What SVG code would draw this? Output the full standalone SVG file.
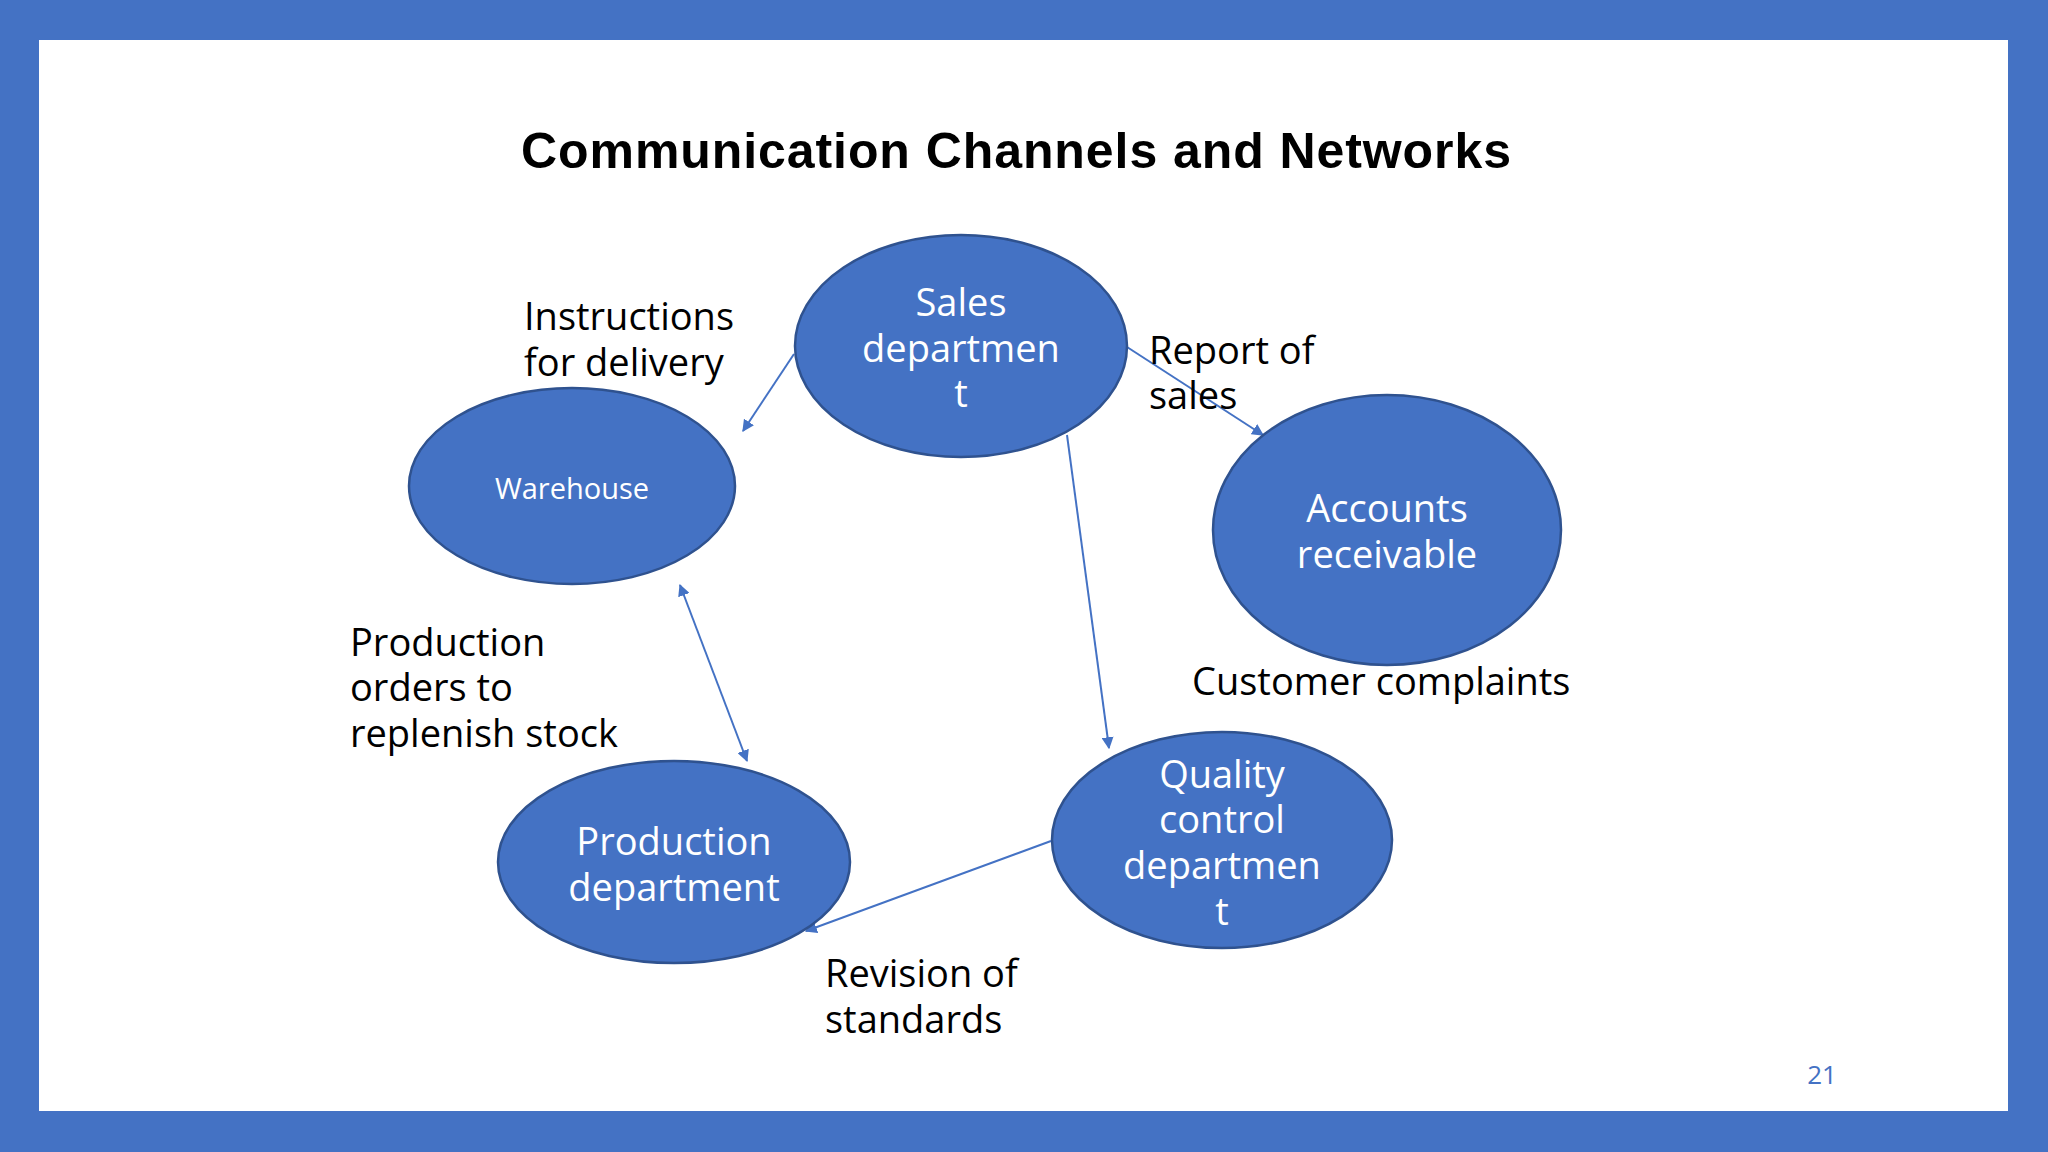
<svg xmlns="http://www.w3.org/2000/svg" width="2048" height="1152" viewBox="0 0 2048 1152">
<defs>
<style>
.n{fill:#4472C4;stroke:#2F528F;stroke-width:2.5}
.t{font-family:"Open Sans","Noto Sans",sans-serif;fill:#fff;font-size:38px;text-anchor:middle}
.w{font-size:29px}
.l{font-family:"Open Sans","Noto Sans",sans-serif;fill:#000;font-size:38px}
.c{stroke:#4472C4;stroke-width:2;fill:none;marker-end:url(#a)}
</style>
<marker id="a" viewBox="0 0 10 10" refX="9" refY="5" markerWidth="6" markerHeight="6" orient="auto-start-reverse"><path d="M0,0L10,5L0,10z" fill="#4472C4"/></marker>
</defs>
<rect width="2048" height="1152" fill="#4472C4"/>
<rect x="39" y="40" width="1969" height="1071" fill="#fff"/>
<text x="1016" y="168" font-family="Liberation Sans,Arial,sans-serif" font-weight="bold" font-size="50" text-anchor="middle" textLength="990">Communication Channels and Networks</text>
<g id="connectors">
<line class="c" x1="794" y1="354" x2="743" y2="431"/>
<line class="c" x1="1127" y1="347" x2="1263" y2="435"/>
<line class="c" x1="1067" y1="435" x2="1109" y2="748"/>
<line class="c" x1="680" y1="585" x2="747" y2="761" marker-start="url(#a)"/>
<line class="c" x1="1051" y1="841" x2="806" y2="931"/>
</g>
<g id="sales"><ellipse class="n" cx="961" cy="346" rx="166" ry="111"/><text class="t" x="961" y="316">Sales</text><text class="t" x="961" y="362">departmen</text><text class="t" x="961" y="407">t</text></g>
<g id="warehouse"><ellipse class="n" cx="572" cy="486" rx="163" ry="98"/><text class="t w" x="572" y="499">Warehouse</text></g>
<g id="accounts"><ellipse class="n" cx="1387" cy="530" rx="174" ry="135"/><text class="t" x="1387" y="522">Accounts</text><text class="t" x="1387" y="568">receivable</text></g>
<g id="production"><ellipse class="n" cx="674" cy="862" rx="176" ry="101"/><text class="t" x="674" y="855">Production</text><text class="t" x="674" y="901">department</text></g>
<g id="quality"><ellipse class="n" cx="1222" cy="840" rx="170" ry="108"/><text class="t" x="1222" y="788">Quality</text><text class="t" x="1222" y="833">control</text><text class="t" x="1222" y="879">departmen</text><text class="t" x="1222" y="925">t</text></g>
<g id="labels">
<text class="l" x="524" y="330">Instructions</text><text class="l" x="524" y="376">for delivery</text>
<text class="l" x="1149" y="364">Report of</text><text class="l" x="1149" y="409">sales</text>
<text class="l" x="1192" y="695">Customer complaints</text>
<text class="l" x="350" y="656">Production</text><text class="l" x="350" y="701">orders to</text><text class="l" x="350" y="747">replenish stock</text>
<text class="l" x="825" y="987">Revision of</text><text class="l" x="825" y="1033">standards</text>
<text x="1822" y="1084" font-family="Open Sans,sans-serif" font-size="26" fill="#4472C4" text-anchor="middle">21</text>
</g>
</svg>
